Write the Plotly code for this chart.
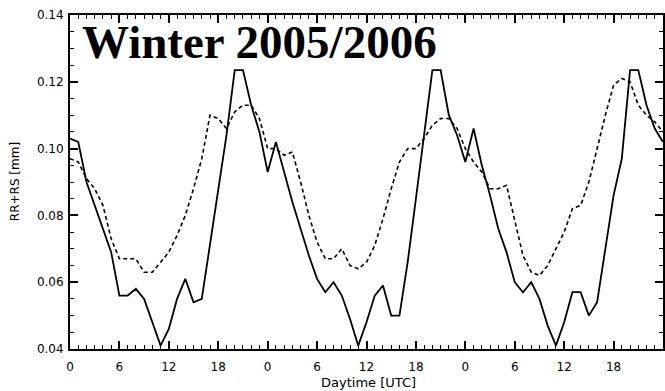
import plotly.graph_objects as go

hours = list(range(0, 73))

solid_rr_rs = [
    # day 1 (0-23)
    0.103, 0.102, 0.090, 0.083, 0.076, 0.069, 0.056, 0.056, 0.058, 0.055, 0.048, 0.041,
    0.046, 0.055, 0.061, 0.054, 0.055, 0.071, 0.087, 0.104, 0.1235, 0.1235, 0.113, 0.105,
    # day 2 (24-47)
    0.093, 0.102, 0.093, 0.084, 0.076, 0.068, 0.061, 0.057, 0.060, 0.056, 0.049, 0.041,
    0.048, 0.056, 0.059, 0.050, 0.050, 0.066, 0.085, 0.105, 0.1235, 0.1235, 0.110, 0.104,
    # day 3 (48-72)
    0.096, 0.106, 0.095, 0.086, 0.076, 0.069, 0.060, 0.057, 0.060, 0.055, 0.047, 0.041,
    0.048, 0.057, 0.057, 0.050, 0.054, 0.070, 0.086, 0.097, 0.1235, 0.1235, 0.113, 0.106,
    0.102,
]

dashed_rr_rs = [
    # day 1
    0.097, 0.096, 0.091, 0.088, 0.083, 0.073, 0.067, 0.067, 0.067, 0.063, 0.063, 0.066,
    0.069, 0.074, 0.080, 0.088, 0.097, 0.110, 0.109, 0.106, 0.111, 0.113, 0.113, 0.109,
    # day 2
    0.100, 0.100, 0.098, 0.099, 0.090, 0.080, 0.072, 0.067, 0.067, 0.070, 0.065, 0.064,
    0.066, 0.071, 0.079, 0.088, 0.096, 0.100, 0.100, 0.103, 0.107, 0.109, 0.109, 0.106,
    # day 3
    0.100, 0.096, 0.093, 0.088, 0.088, 0.089, 0.078, 0.068, 0.063, 0.062, 0.065, 0.070,
    0.075, 0.082, 0.083, 0.090, 0.100, 0.110, 0.119, 0.121, 0.120, 0.113, 0.110, 0.108,
    0.105,
]

x_tick_vals = [0, 6, 12, 18, 24, 30, 36, 42, 48, 54, 60, 66, 72]
x_tick_text = ["0", "6", "12", "18", "0", "6", "12", "18", "0", "6", "12", "18", "0"]
y_tick_vals = [0.04, 0.06, 0.08, 0.10, 0.12, 0.14]

fig = go.Figure()
fig.add_trace(go.Scatter(x=hours, y=dashed_rr_rs, mode="lines",
                         line=dict(color="black", width=1.6, dash="4px,3px"),
                         showlegend=False))
fig.add_trace(go.Scatter(x=hours, y=solid_rr_rs, mode="lines",
                         line=dict(color="black", width=1.8),
                         showlegend=False))

tickfont = dict(family="DejaVu Sans", size=12, color="black")

fig.update_layout(
    width=665, height=391,
    margin=dict(l=70, r=0, t=15, b=42),
    paper_bgcolor="white", plot_bgcolor="white",
    xaxis=dict(range=[0, 72], tickvals=x_tick_vals, ticktext=x_tick_text,
               ticks="inside", ticklen=8, tickwidth=1.5, tickcolor="black",
               showline=True, linecolor="black", linewidth=2, mirror="ticks",
               showgrid=False, zeroline=False, tickfont=tickfont,
               ticklabelstandoff=6,
               minor=dict(dtick=1, ticks="inside", ticklen=4, tickwidth=1.2,
                          tickcolor="black", showgrid=False)),
    yaxis=dict(range=[0.04, 0.14], tickvals=y_tick_vals, tickformat=".2f",
               ticks="inside", ticklen=8, tickwidth=1.5, tickcolor="black",
               showline=True, linecolor="black", linewidth=2, mirror="ticks",
               showgrid=False, zeroline=False, tickfont=tickfont,
               ticklabelstandoff=2,
               minor=dict(dtick=0.005, ticks="inside", ticklen=4, tickwidth=1.2,
                          tickcolor="black", showgrid=False)),
    annotations=[
        dict(text="Winter 2005/2006", xref="paper", yref="paper",
             x=(80 - 70) / 595, y=(349 - 41.5) / 334, xanchor="left", yanchor="middle",
             showarrow=False,
             font=dict(family="Liberation Serif", size=47, color="black", weight="bold")),
        dict(text="Daytime [UTC]", xref="paper", yref="paper",
             x=(370 - 70) / 595, y=(349 - 382) / 334, xanchor="center", yanchor="middle",
             showarrow=False, font=dict(family="DejaVu Sans", size=13, color="black")),
        dict(text="RR+RS [mm]", xref="paper", yref="paper", textangle=-90,
             x=(15 - 70) / 595, y=(349 - 182) / 334, xanchor="center", yanchor="middle",
             showarrow=False, font=dict(family="DejaVu Sans", size=12, color="black")),
    ],
)

fig.write_html("out.html")
